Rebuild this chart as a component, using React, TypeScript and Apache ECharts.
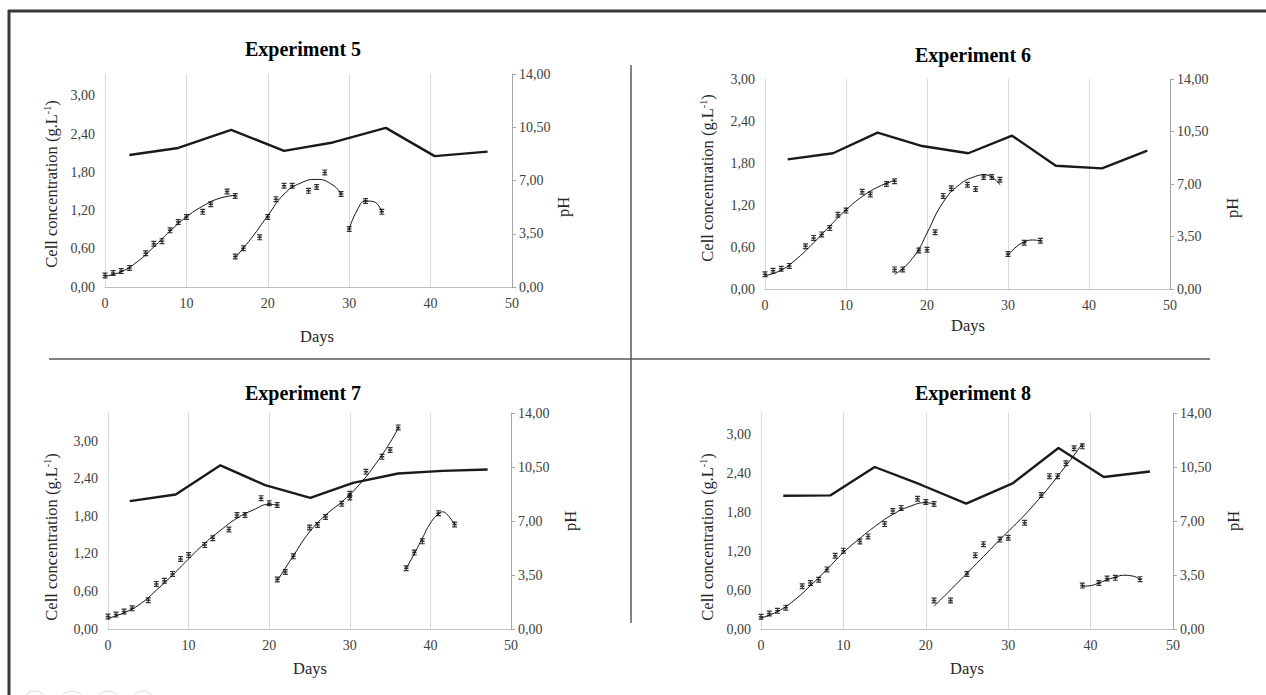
import React, { useEffect, useRef } from "react";
import * as echarts from "echarts";

// ---------- Experiment 5 ----------
const exp5PhDays = [3, 9, 15.5, 22, 28, 34.5, 40.5, 47];
const exp5Ph = [8.68, 9.14, 10.33, 8.95, 9.5, 10.46, 8.6, 8.9];
const exp5B1Days = [0, 1, 2, 3, 5, 6, 7, 8, 9, 10, 12, 13, 15, 16];
const exp5B1Cells = [0.18, 0.22, 0.25, 0.3, 0.53, 0.68, 0.72, 0.89, 1.02, 1.1, 1.18, 1.3, 1.5, 1.43];
const exp5B1FitDays = [0, 2, 4, 6, 8, 10, 12, 14, 16];
const exp5B1Fit = [0.17, 0.24, 0.4, 0.63, 0.88, 1.1, 1.27, 1.39, 1.44];
const exp5B2Days = [16, 17, 19, 20, 21, 22, 23, 25, 26, 27, 29];
const exp5B2Cells = [0.48, 0.61, 0.78, 1.1, 1.38, 1.59, 1.59, 1.51, 1.57, 1.8, 1.46];
const exp5B2FitDays = [16, 18, 20, 22, 24, 26, 28, 29];
const exp5B2Fit = [0.46, 0.77, 1.12, 1.46, 1.63, 1.69, 1.6, 1.46];
const exp5B3Days = [30, 32, 34];
const exp5B3Cells = [0.91, 1.35, 1.18];
const exp5B3FitDays = [30, 31, 32, 33, 34];
const exp5B3Fit = [0.91, 1.21, 1.35, 1.34, 1.18];

// ---------- Experiment 6 ----------
const exp6PhDays = [2.8, 8.4, 13.9, 19.4, 25.1, 30.5, 35.9, 41.6, 47.2];
const exp6Ph = [8.64, 9.05, 10.42, 9.53, 9.05, 10.22, 8.22, 8.04, 9.22];
const exp6B1Days = [0, 1, 2, 3, 5, 6, 7, 8, 9, 10, 12, 13, 15, 16];
const exp6B1Cells = [0.21, 0.26, 0.29, 0.33, 0.61, 0.73, 0.78, 0.87, 1.06, 1.12, 1.39, 1.35, 1.5, 1.54];
const exp6B1FitDays = [0, 2, 4, 6, 8, 10, 12, 14, 16];
const exp6B1Fit = [0.19, 0.27, 0.44, 0.66, 0.9, 1.13, 1.32, 1.46, 1.55];
const exp6B2Days = [16, 17, 19, 20, 21, 22, 23, 25, 26, 27, 28, 29];
const exp6B2Cells = [0.28, 0.28, 0.55, 0.56, 0.81, 1.33, 1.44, 1.49, 1.43, 1.6, 1.6, 1.56];
const exp6B2FitDays = [16, 17, 18, 19, 20, 22, 24, 26, 27, 28, 29];
const exp6B2Fit = [0.21, 0.29, 0.41, 0.57, 0.8, 1.24, 1.49, 1.61, 1.63, 1.6, 1.49];
const exp6B3Days = [30, 32, 34];
const exp6B3Cells = [0.5, 0.66, 0.69];
const exp6B3FitDays = [30, 31, 32, 33, 34];
const exp6B3Fit = [0.48, 0.6, 0.67, 0.7, 0.69];

// ---------- Experiment 7 ----------
const exp7PhDays = [2.7, 8.4, 13.95, 19.5, 25.1, 30.4, 36, 41.5, 47.1];
const exp7Ph = [8.29, 8.72, 10.61, 9.32, 8.5, 9.47, 10.08, 10.25, 10.34];
const exp7B1Days = [0, 1, 2, 3, 5, 6, 7, 8, 9, 10, 12, 13, 15, 16, 17, 19, 20, 21];
const exp7B1Cells = [0.2, 0.23, 0.28, 0.33, 0.46, 0.72, 0.77, 0.88, 1.12, 1.18, 1.34, 1.45, 1.59, 1.82, 1.82, 2.09, 2.01, 1.98];
const exp7B1FitDays = [0, 2, 4, 6, 8, 10, 12, 14, 16, 18, 20, 21];
const exp7B1Fit = [0.17, 0.26, 0.4, 0.62, 0.86, 1.12, 1.37, 1.58, 1.77, 1.9, 1.99, 1.98];
const exp7B2Days = [21, 22, 23, 25, 26, 27, 29, 30, 30, 32, 34, 35, 36];
const exp7B2Cells = [0.79, 0.91, 1.16, 1.62, 1.66, 1.79, 2.0, 2.1, 2.16, 2.51, 2.75, 2.86, 3.22];
const exp7B2FitDays = [21, 23, 25, 27, 29, 31, 33, 35, 36];
const exp7B2Fit = [0.77, 1.17, 1.55, 1.82, 2.03, 2.28, 2.6, 2.98, 3.21];
const exp7B3Days = [37, 38, 39, 41, 43];
const exp7B3Cells = [0.97, 1.22, 1.4, 1.85, 1.67];
const exp7B3FitDays = [37, 38, 39, 40, 41, 41.5, 42, 43];
const exp7B3Fit = [0.97, 1.2, 1.45, 1.69, 1.84, 1.87, 1.84, 1.67];

// ---------- Experiment 8 ----------
const exp8PhDays = [2.7, 8.4, 13.8, 19.4, 24.9, 30.6, 36.1, 41.6, 47.2];
const exp8Ph = [8.64, 8.66, 10.5, 9.35, 8.12, 9.46, 11.73, 9.85, 10.21];
const exp8B1Days = [0, 1, 2, 3, 5, 6, 7, 8, 9, 10, 12, 13, 15, 16, 17, 19, 20, 21];
const exp8B1Cells = [0.19, 0.24, 0.28, 0.33, 0.66, 0.71, 0.76, 0.92, 1.13, 1.21, 1.35, 1.43, 1.62, 1.82, 1.87, 2.01, 1.96, 1.93];
const exp8B1FitDays = [0, 2, 4, 6, 8, 10, 12, 14, 16, 18, 20, 21];
const exp8B1Fit = [0.17, 0.27, 0.44, 0.67, 0.92, 1.18, 1.4, 1.6, 1.77, 1.89, 1.95, 1.93];
const exp8B2Days = [21, 23, 25, 26, 27, 29, 30, 32, 34, 35, 36, 37, 38, 39];
const exp8B2Cells = [0.44, 0.44, 0.85, 1.14, 1.31, 1.38, 1.41, 1.64, 2.07, 2.36, 2.36, 2.56, 2.79, 2.82];
const exp8B2FitDays = [21, 25, 29, 33, 37, 39];
const exp8B2Fit = [0.35, 0.86, 1.38, 1.9, 2.52, 2.86];
const exp8B3Days = [39, 41, 42, 43, 46];
const exp8B3Cells = [0.67, 0.71, 0.78, 0.79, 0.77];
const exp8B3FitDays = [39, 40, 41, 42, 43, 44, 45, 46];
const exp8B3Fit = [0.66, 0.67, 0.71, 0.76, 0.8, 0.83, 0.82, 0.77];

// ---------- labels / axes ----------
const titles = ["Experiment 5", "Experiment 6", "Experiment 7", "Experiment 8"];
const xAxisName = "Days";
const leftAxisName = "Cell concentration (g.L{sup|-1})";
const rightAxisName = "pH";
const daysTicks = [0, 50, 10];
const cellMax = [3.345, 3.0, 3.45, 3.335];
const cellInterval = 0.6;
const phMax = 14;
const phInterval = 3.5;

const zip = (a: number[], b: number[]) => a.map((v, i) => [v, b[i]]);

const experiments = [
  {
    ph: zip(exp5PhDays, exp5Ph),
    batches: [
      [zip(exp5B1Days, exp5B1Cells), zip(exp5B1FitDays, exp5B1Fit)],
      [zip(exp5B2Days, exp5B2Cells), zip(exp5B2FitDays, exp5B2Fit)],
      [zip(exp5B3Days, exp5B3Cells), zip(exp5B3FitDays, exp5B3Fit)],
    ],
  },
  {
    ph: zip(exp6PhDays, exp6Ph),
    batches: [
      [zip(exp6B1Days, exp6B1Cells), zip(exp6B1FitDays, exp6B1Fit)],
      [zip(exp6B2Days, exp6B2Cells), zip(exp6B2FitDays, exp6B2Fit)],
      [zip(exp6B3Days, exp6B3Cells), zip(exp6B3FitDays, exp6B3Fit)],
    ],
  },
  {
    ph: zip(exp7PhDays, exp7Ph),
    batches: [
      [zip(exp7B1Days, exp7B1Cells), zip(exp7B1FitDays, exp7B1Fit)],
      [zip(exp7B2Days, exp7B2Cells), zip(exp7B2FitDays, exp7B2Fit)],
      [zip(exp7B3Days, exp7B3Cells), zip(exp7B3FitDays, exp7B3Fit)],
    ],
  },
  {
    ph: zip(exp8PhDays, exp8Ph),
    batches: [
      [zip(exp8B1Days, exp8B1Cells), zip(exp8B1FitDays, exp8B1Fit)],
      [zip(exp8B2Days, exp8B2Cells), zip(exp8B2FitDays, exp8B2Fit)],
      [zip(exp8B3Days, exp8B3Cells), zip(exp8B3FitDays, exp8B3Fit)],
    ],
  },
];

// layout (pixels)
const gridBoxes = [
  { left: 105, top: 74, width: 407, height: 213 },
  { left: 765, top: 79, width: 405, height: 210 },
  { left: 108, top: 413, width: 403, height: 216 },
  { left: 761, top: 413, width: 412, height: 216 },
];
const titlePos = [[303, 49], [973, 55], [303, 393], [973, 393]];
const daysPos = [[317, 336], [968, 325], [310, 668], [967, 668]];
const leftNamePos = [[51, 184], [707, 178], [51, 537], [707, 537]];
const rightNamePos = [[563, 207], [1232, 208], [570, 521], [1233, 521]];

const FONT = '"Liberation Serif", "Times New Roman", serif';
const MARKER =
  "path://M0,0H8V1.6H5V3H7.5V5H5V6.4H8V8H0V6.4H3V5H0.5V3H3V1.6H0Z";

const fmt = (v: number, step: number) => {
  const k = v / step;
  if (Math.abs(k - Math.round(k)) > 1e-6) return "";
  return v.toFixed(2).replace(".", ",");
};

function buildOption() {
  const grid: any[] = [];
  const xAxis: any[] = [];
  const yAxis: any[] = [];
  const series: any[] = [];
  const graphic: any[] = [];

  experiments.forEach((exp, i) => {
    grid.push({ ...gridBoxes[i], containLabel: false });
    xAxis.push({
      type: "value",
      gridIndex: i,
      min: daysTicks[0],
      max: daysTicks[1],
      interval: daysTicks[2],
      axisLine: { show: true, lineStyle: { color: "#bfbfbf", width: 1 } },
      axisTick: { show: false },
      splitLine: { show: true, lineStyle: { color: "#d9d9d9", width: 1 } },
      axisLabel: { color: "#404040", fontFamily: FONT, fontSize: 14, margin: 9 },
    });
    yAxis.push({
      type: "value",
      gridIndex: i,
      position: "left",
      min: 0,
      max: cellMax[i],
      interval: cellInterval,
      axisLine: { show: true, lineStyle: { color: "#d9d9d9", width: 1 } },
      axisTick: { show: false },
      splitLine: { show: false },
      axisLabel: {
        color: "#404040",
        fontFamily: FONT,
        fontSize: 14,
        margin: 10,
        formatter: (v: number) => fmt(v, cellInterval),
      },
    });
    yAxis.push({
      type: "value",
      gridIndex: i,
      position: "right",
      min: 0,
      max: phMax,
      interval: phInterval,
      axisLine: { show: true, lineStyle: { color: "#a6a6a6", width: 1 } },
      axisTick: { show: true, inside: false, length: 4, lineStyle: { color: "#a6a6a6" } },
      splitLine: { show: false },
      axisLabel: {
        color: "#404040",
        fontFamily: FONT,
        fontSize: 14,
        margin: 7,
        formatter: (v: number) => fmt(v, phInterval),
      },
    });

    series.push({
      type: "line",
      name: `pH ${titles[i]}`,
      xAxisIndex: i,
      yAxisIndex: 2 * i + 1,
      data: exp.ph,
      symbol: "none",
      lineStyle: { color: "#1a1a1a", width: 2.4 },
      z: 3,
    });
    exp.batches.forEach(([pts, fit], b) => {
      series.push({
        type: "line",
        name: `fit ${i}-${b}`,
        xAxisIndex: i,
        yAxisIndex: 2 * i,
        data: fit,
        smooth: 0.5,
        symbol: "none",
        lineStyle: { color: "#111", width: 1 },
        z: 4,
      });
      series.push({
        type: "scatter",
        name: `cells ${i}-${b}`,
        xAxisIndex: i,
        yAxisIndex: 2 * i,
        data: pts,
        symbol: MARKER,
        symbolSize: [5, 6],
        itemStyle: { color: "#000" },
        z: 5,
      });
    });

    graphic.push({
      type: "text",
      x: titlePos[i][0],
      y: titlePos[i][1],
      style: {
        text: titles[i],
        fontFamily: FONT,
        fontSize: 20,
        fontWeight: "bold",
        fill: "#000",
        textAlign: "center",
        textVerticalAlign: "middle",
        align: "center",
        verticalAlign: "middle",
      },
    });
    graphic.push({
      type: "text",
      x: daysPos[i][0],
      y: daysPos[i][1],
      style: {
        text: xAxisName,
        fontFamily: FONT,
        fontSize: 16.5,
        fill: "#262626",
        textAlign: "center",
        textVerticalAlign: "middle",
        align: "center",
        verticalAlign: "middle",
      },
    });
    graphic.push({
      type: "text",
      x: leftNamePos[i][0],
      y: leftNamePos[i][1],
      rotation: Math.PI / 2,
      style: {
        text: leftAxisName,
        fontFamily: FONT,
        fontSize: 16.5,
        fill: "#262626",
        textAlign: "center",
        textVerticalAlign: "middle",
        align: "center",
        verticalAlign: "middle",
        rich: {
          sup: {
            fontFamily: FONT,
            fontSize: 10,
            fill: "#262626",
            verticalAlign: "top",
            textVerticalAlign: "top",
          },
        },
      },
    });
    graphic.push({
      type: "text",
      x: rightNamePos[i][0],
      y: rightNamePos[i][1],
      rotation: Math.PI / 2,
      style: {
        text: rightAxisName,
        fontFamily: FONT,
        fontSize: 16.5,
        fill: "#262626",
        textAlign: "center",
        textVerticalAlign: "middle",
        align: "center",
        verticalAlign: "middle",
      },
    });
  });

  // frame and dividers
  const lines = [
    { s: [8, 11], e: [1266, 11], c: "#383838", w: 3 },
    { s: [9, 10], e: [9, 695], c: "#383838", w: 3 },
    { s: [49, 359], e: [1210, 359], c: "#595959", w: 1.5 },
    { s: [631, 65], e: [631, 623], c: "#595959", w: 1.5 },
  ];
  lines.forEach((l) =>
    graphic.push({
      type: "line",
      shape: { x1: l.s[0], y1: l.s[1], x2: l.e[0], y2: l.e[1] },
      style: { stroke: l.c, lineWidth: l.w },
      silent: true,
    })
  );
  [35, 72, 108, 143].forEach((cx) =>
    graphic.push({
      type: "circle",
      shape: { cx, cy: 703, r: 12 },
      style: { fill: "none", stroke: "#dcdcdc", lineWidth: 1 },
      silent: true,
    })
  );

  return {
    animation: false,
    backgroundColor: "#ffffff",
    grid,
    xAxis,
    yAxis,
    series,
    graphic,
  };
}

export default function App() {
  const ref = useRef<HTMLDivElement>(null);
  useEffect(() => {
    if (!ref.current) return;
    const chart = echarts.init(ref.current, undefined, { renderer: "svg" });
    chart.setOption(buildOption() as any);
    return () => chart.dispose();
  }, []);
  return (
    <div
      ref={ref}
      style={{ position: "fixed", left: 0, top: 0, width: 1266, height: 695 }}
    />
  );
}
